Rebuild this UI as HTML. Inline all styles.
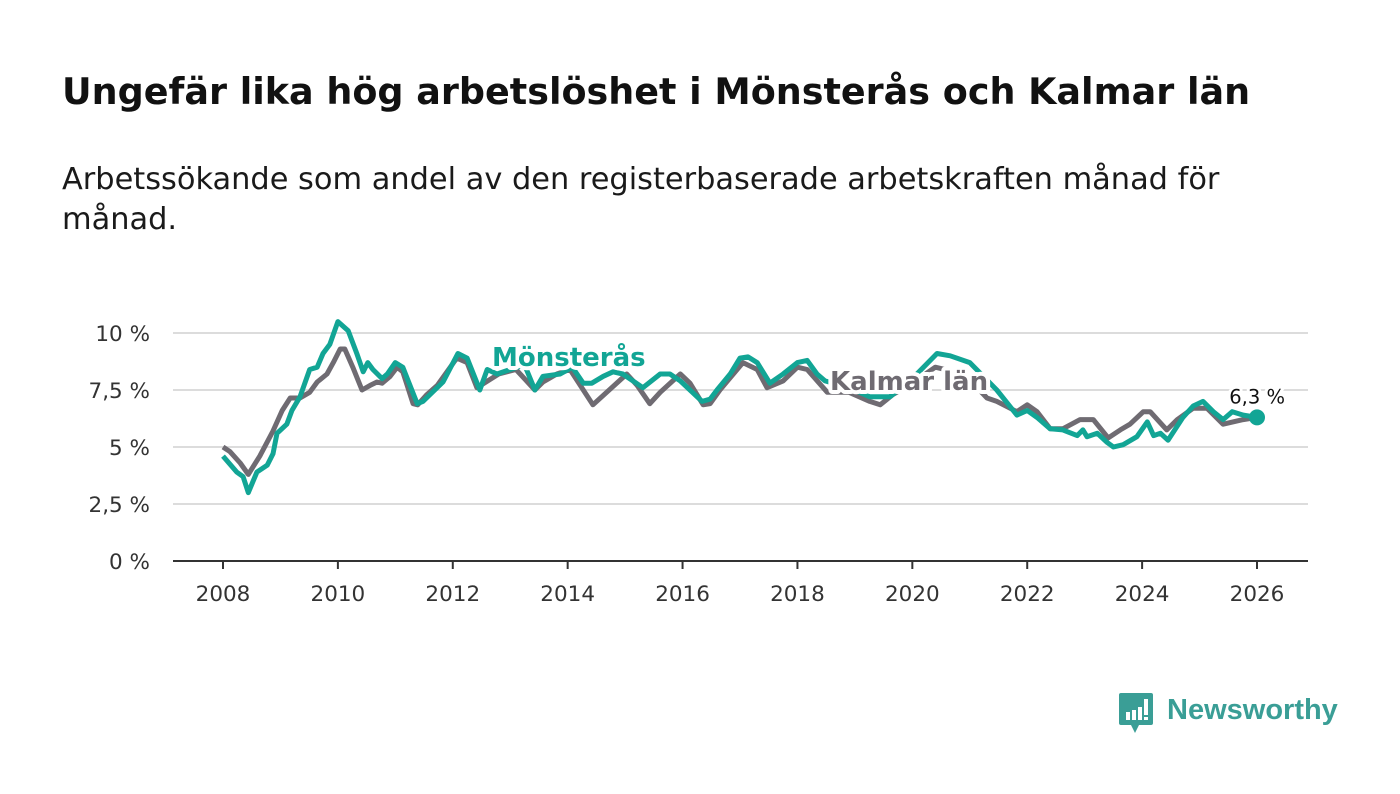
<!DOCTYPE html>
<html><head><meta charset="utf-8">
<style>
body{margin:0;background:#fff;width:1400px;height:794px;overflow:hidden;font-family:"DejaVu Sans","Liberation Sans",sans-serif;}
#title{position:absolute;left:62px;top:70px;font-size:36.5px;font-weight:bold;color:#111;margin:0;white-space:nowrap;}
#sub{position:absolute;left:62px;top:160px;font-size:30.4px;line-height:40px;color:#1a1a1a;width:1300px;}
svg{position:absolute;left:0;top:0;}
</style></head><body>
<h1 id="title">Ungefär lika hög arbetslöshet i Mönsterås och Kalmar län</h1>
<div id="sub">Arbetssökande som andel av den registerbaserade arbetskraften månad för<br>månad.</div>
<svg id="chart" width="1400" height="794" font-family="DejaVu Sans, Liberation Sans, sans-serif"></svg>
<script>
const yTicks=[0,2.5,5,7.5,10];
const yTickLabels=["0 %","2,5 %","5 %","7,5 %","10 %"];
const xTicks=[2008,2010,2012,2014,2016,2018,2020,2022,2024,2026];
const monsDates=[2008.0,2008.24,2008.35,2008.44,2008.59,2008.77,2008.87,2008.94,2009.11,2009.2,2009.34,2009.51,2009.64,2009.74,2009.86,2010.0,2010.18,2010.33,2010.44,2010.52,2010.61,2010.77,2010.86,2011.0,2011.13,2011.38,2011.48,2011.83,2012.09,2012.25,2012.47,2012.6,2012.77,2013.0,2013.25,2013.43,2013.57,2013.87,2014.08,2014.27,2014.42,2014.62,2014.79,2014.96,2015.31,2015.61,2015.78,2015.96,2016.34,2016.48,2016.6,2016.83,2017.0,2017.14,2017.3,2017.52,2017.75,2018.0,2018.17,2018.34,2018.48,2018.9,2019.26,2019.61,2020.0,2020.43,2020.66,2021.0,2021.47,2021.82,2022.0,2022.17,2022.4,2022.62,2022.87,2022.97,2023.04,2023.22,2023.39,2023.5,2023.67,2023.91,2024.09,2024.2,2024.32,2024.45,2024.71,2024.89,2025.06,2025.24,2025.41,2025.57,2025.76,2026.0];
const monsValues=[4.6,3.9,3.7,3.0,3.9,4.2,4.7,5.6,6.0,6.6,7.2,8.4,8.5,9.1,9.5,10.5,10.1,9.1,8.3,8.7,8.4,8.0,8.2,8.7,8.5,6.9,7.0,7.85,9.1,8.9,7.5,8.4,8.2,8.4,8.6,7.5,8.1,8.2,8.5,7.8,7.8,8.1,8.3,8.2,7.6,8.2,8.2,7.9,7.0,7.1,7.5,8.2,8.9,8.95,8.7,7.8,8.2,8.7,8.8,8.2,7.9,7.6,7.2,7.2,8.0,9.1,9.0,8.7,7.5,6.4,6.6,6.3,5.8,5.75,5.5,5.75,5.45,5.6,5.2,5.0,5.1,5.45,6.1,5.5,5.6,5.3,6.3,6.8,7.0,6.55,6.2,6.55,6.4,6.3];
const kalDates=[2008.0,2008.12,2008.3,2008.44,2008.64,2008.87,2009.03,2009.17,2009.34,2009.51,2009.64,2009.81,2009.92,2010.04,2010.12,2010.26,2010.42,2010.56,2010.68,2010.77,2010.91,2011.03,2011.13,2011.31,2011.39,2011.55,2011.73,2011.9,2012.07,2012.25,2012.42,2012.8,2013.1,2013.43,2013.57,2013.81,2014.04,2014.44,2015.03,2015.21,2015.43,2015.61,2015.96,2016.13,2016.36,2016.48,2016.65,2017.05,2017.3,2017.47,2017.75,2018.0,2018.17,2018.52,2018.9,2019.26,2019.44,2019.66,2020.0,2020.4,2020.9,2021.3,2021.47,2021.82,2022.0,2022.17,2022.4,2022.62,2022.92,2023.15,2023.41,2023.62,2023.79,2024.02,2024.14,2024.43,2024.61,2024.89,2025.13,2025.41,2025.76,2026.0];
const kalValues=[5.0,4.8,4.3,3.8,4.6,5.7,6.6,7.15,7.15,7.4,7.85,8.2,8.7,9.3,9.3,8.5,7.5,7.7,7.85,7.8,8.1,8.5,8.3,6.9,6.85,7.3,7.7,8.3,8.9,8.7,7.6,8.2,8.4,7.5,7.85,8.2,8.4,6.85,8.2,7.7,6.9,7.4,8.2,7.8,6.85,6.9,7.5,8.7,8.4,7.6,7.9,8.5,8.4,7.4,7.4,7.0,6.85,7.3,7.8,8.5,8.2,7.15,7.0,6.55,6.85,6.55,5.8,5.8,6.2,6.2,5.4,5.75,6.0,6.55,6.55,5.75,6.2,6.7,6.7,6.0,6.2,6.3];
const lastLabel="6,3 %";

const NS="http://www.w3.org/2000/svg";
const svg=document.getElementById('chart');
const X=t=>223+(t-2008)*(1034/18);
const Y=v=>561-v*22.8;
function mk(tag,attrs,parent){const e=document.createElementNS(NS,tag);for(const k in attrs)e.setAttribute(k,attrs[k]);(parent||svg).appendChild(e);return e;}
yTicks.forEach((v,i)=>{
  if(v>0){const g=mk('line',{x1:173,x2:1308,y1:Y(v),y2:Y(v),stroke:'#dcdcdc','stroke-width':2});
  
  }
  const t=mk('text',{x:150,y:Y(v)+8,'text-anchor':'end','font-size':21.5,fill:'#333'});
  t.textContent=yTickLabels[i];
  
  
});
const ax=mk('line',{x1:173,x2:1308,y1:561,y2:561,stroke:'#333','stroke-width':2});


xTicks.forEach(yr=>{
  const tk=mk('line',{x1:X(yr),x2:X(yr),y1:561,y2:569,stroke:'#333','stroke-width':2});
  
  
  const t=mk('text',{x:X(yr),y:601,'text-anchor':'middle','font-size':21.5,fill:'#333'});
  t.textContent=yr;
  
  
});
function path(ds,vs){return ds.map((d,i)=>(i?'L':'M')+X(d).toFixed(1)+','+Y(vs[i]).toFixed(1)).join('');}
const kp=mk('path',{d:path(kalDates,kalValues),fill:'none',stroke:'#6f6b72','stroke-width':5,'stroke-linejoin':'round'});


const mp=mk('path',{d:path(monsDates,monsValues),fill:'none',stroke:'#12a595','stroke-width':5,'stroke-linejoin':'round'});


const l1=mk('text',{x:492,y:366,'font-size':26,'font-weight':'bold',fill:'#12a595',stroke:'#fff','stroke-width':8,'paint-order':'stroke','stroke-linejoin':'round'});
l1.textContent='Mönsterås';


const l2=mk('text',{x:830,y:390,'font-size':26,'font-weight':'bold',fill:'#6f6b72',stroke:'#fff','stroke-width':8,'paint-order':'stroke','stroke-linejoin':'round'});
l2.textContent='Kalmar län';


const n=monsDates.length-1;
const dot=mk('circle',{cx:X(monsDates[n]),cy:Y(monsValues[n]),r:8,fill:'#12a595'});


const lv=mk('text',{x:X(monsDates[n])+28,y:Y(monsValues[n])-14,'text-anchor':'end','font-size':19.5,fill:'#111',stroke:'#fff','stroke-width':6,'paint-order':'stroke'});
lv.textContent=lastLabel;


</script>
<svg width="1400" height="794">
<path d="M1121,693 h30 a2,2 0 0 1 2,2 v28 a2,2 0 0 1 -2,2 h-12 l-4,8 l-4,-8 h-10 a2,2 0 0 1 -2,-2 v-28 a2,2 0 0 1 2,-2z" fill="#3a9e96"/>
<rect x="1126" y="712" width="4" height="8" fill="#fff"/><rect x="1132" y="710" width="4" height="10" fill="#fff"/><rect x="1138" y="707" width="4" height="13" fill="#fff"/><rect x="1144" y="699" width="4" height="16" fill="#fff"/><rect x="1144" y="717" width="4" height="3" fill="#fff"/>
<text x="1167" y="719" font-size="29" font-weight="bold" fill="#3a9e96" font-family="Liberation Sans, sans-serif">Newsworthy</text>
</svg>
</body></html>
